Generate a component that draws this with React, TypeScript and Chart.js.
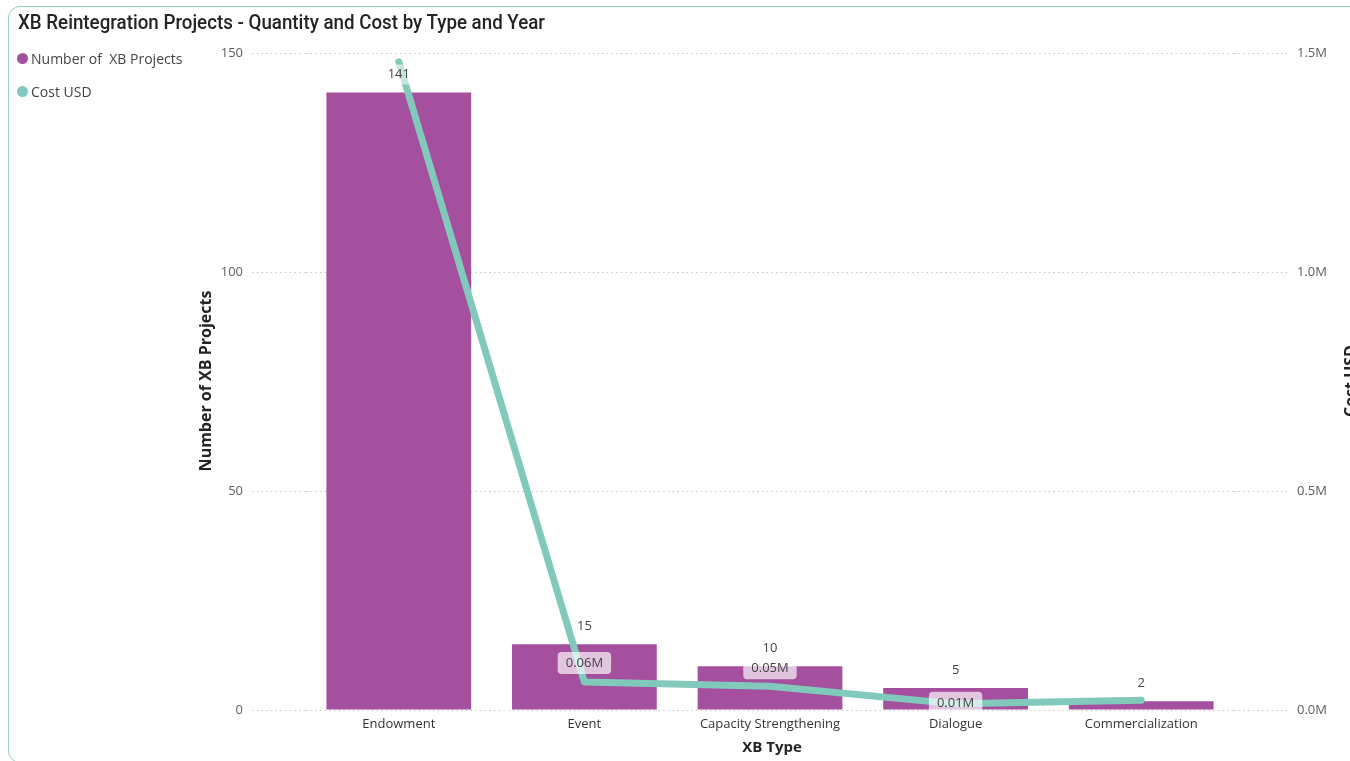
import React, { useEffect, useRef } from 'react';
import { Chart, registerables } from 'chart.js';

Chart.register(...registerables);

const categories = ['Endowment', 'Event', 'Capacity Strengthening', 'Dialogue', 'Commercialization'];
const projectCounts = [141, 15, 10, 5, 2];
const costUSD = [1480000, 64000, 54000, 14000, 22000];
const showCostLabel = [false, true, true, true, false];
const costLabelOffset = [0, -19, -18, -1, 0];
const leftTicks = [0, 50, 100, 150];
const rightTicks = [0, 500000, 1000000, 1500000];

const PURPLE = '#A4509F';
const TEAL = '#80C9BB';
const FONT = '"Open Sans", "Noto Sans", sans-serif';
const TITLE_TEXT = 'XB Reintegration Projects - Quantity and Cost by Type and Year';

function rr(ctx: CanvasRenderingContext2D, x: number, y: number, w: number, h: number, r: number) {
  ctx.beginPath();
  ctx.moveTo(x + r, y);
  ctx.lineTo(x + w - r, y);
  ctx.quadraticCurveTo(x + w, y, x + w, y + r);
  ctx.lineTo(x + w, y + h - r);
  ctx.quadraticCurveTo(x + w, y + h, x + w - r, y + h);
  ctx.lineTo(x + r, y + h);
  ctx.quadraticCurveTo(x, y + h, x, y + h - r);
  ctx.lineTo(x, y + r);
  ctx.quadraticCurveTo(x, y, x + r, y);
  ctx.closePath();
}

const labelPlugin = {
  id: 'customLabels',
  afterDatasetsDraw(chart: any) {
    const ctx: CanvasRenderingContext2D = chart.ctx;
    const barMeta = chart.getDatasetMeta(0);
    const lineMeta = chart.getDatasetMeta(1);
    ctx.save();
    ctx.textAlign = 'center';
    ctx.textBaseline = 'middle';
    ctx.font = `13px ${FONT}`;
    barMeta.data.forEach((el: any, i: number) => {
      const text = String(projectCounts[i]);
      const y = el.y - 18;
      const w = ctx.measureText(text).width + 8;
      ctx.fillStyle = 'rgba(255,255,255,0.55)';
      rr(ctx, el.x - w / 2, y - 10, w, 20, 3);
      ctx.fill();
      ctx.fillStyle = '#444444';
      ctx.fillText(text, el.x, y);
    });
    lineMeta.data.forEach((el: any, i: number) => {
      if (!showCostLabel[i]) return;
      const text = (costUSD[i] / 1e6).toFixed(2) + 'M';
      const y = el.y + costLabelOffset[i];
      const w = ctx.measureText(text).width + 16;
      ctx.fillStyle = 'rgba(255,255,255,0.68)';
      rr(ctx, el.x - w / 2, y - 11, w, 22, 4);
      ctx.fill();
      ctx.fillStyle = '#444444';
      ctx.fillText(text, el.x, y);
    });
    ctx.restore();
  },
  afterDraw(chart: any) {
    const ctx: CanvasRenderingContext2D = chart.ctx;
    const area = chart.chartArea;
    ctx.save();
    ctx.fillStyle = '#252423';
    ctx.textAlign = 'center';
    ctx.textBaseline = 'middle';
    ctx.font = `bold 16px ${FONT}`;
    const midY = 381;
    ctx.save();
    ctx.translate(206, midY);
    ctx.rotate(-Math.PI / 2);
    ctx.fillText('Number of XB Projects', 0, 0);
    ctx.restore();
    ctx.save();
    ctx.translate(1351, midY);
    ctx.rotate(-Math.PI / 2);
    ctx.fillText('Cost USD', 0, 0);
    ctx.restore();
    ctx.font = `bold 15px ${FONT}`;
    ctx.fillText('XB Type', (area.left + area.right) / 2 + 2, 748);
    ctx.restore();
  },
};

export default function App() {
  const ref = useRef<HTMLCanvasElement | null>(null);
  const titleRef = useRef<HTMLDivElement | null>(null);

  useEffect(() => {
    if (titleRef.current) {
      const w = titleRef.current.getBoundingClientRect().width;
      if (w > 0) titleRef.current.style.transform = `scaleX(${527 / w})`;
    }
    if (!ref.current) return;
    const dash = [1.5, 3.2];
    const chart = new Chart(ref.current, {
      type: 'bar',
      data: {
        labels: categories,
        datasets: [
          {
            type: 'bar',
            label: 'Number of  XB Projects',
            data: projectCounts,
            backgroundColor: PURPLE,
            yAxisID: 'y',
            categoryPercentage: 1,
            barPercentage: 0.78,
            order: 2,
          },
          {
            type: 'line',
            label: 'Cost USD',
            data: costUSD,
            borderColor: TEAL,
            backgroundColor: TEAL,
            borderWidth: 7,
            borderCapStyle: 'round',
            borderJoinStyle: 'round',
            pointRadius: 0,
            pointHoverRadius: 0,
            tension: 0,
            yAxisID: 'y1',
            order: 1,
          } as any,
        ],
      },
      options: {
        responsive: false,
        animation: false,
        devicePixelRatio: 1,
        layout: { padding: { top: 53, left: 0, right: 0, bottom: 0 } },
        plugins: {
          legend: { display: false },
          tooltip: { enabled: false },
          title: { display: false },
        },
        scales: {
          x: {
            grid: { display: false, drawTicks: false },
            border: { display: false },
            ticks: {
              color: '#333333',
              font: { family: FONT, size: 13 },
              padding: 6,
              maxRotation: 0,
            },
            afterFit: (s: any) => {
              s.height = 51;
            },
          },
          y: {
            position: 'left',
            min: leftTicks[0],
            max: leftTicks[leftTicks.length - 1],
            afterBuildTicks: (s: any) => {
              s.ticks = leftTicks.map((v) => ({ value: v }));
            },
            grid: {
              color: '#C8C6C4',
              lineWidth: 1,
              tickBorderDash: dash,
              tickColor: '#C8C6C4',
              drawTicks: true,
              tickLength: 54,
            } as any,
            border: { display: false, dash: dash } as any,
            ticks: {
              color: '#605E5C',
              font: { family: FONT, size: 13 },
              padding: 9,
            },
            afterFit: (s: any) => {
              s.width = 306;
            },
          },
          y1: {
            position: 'right',
            min: rightTicks[0],
            max: rightTicks[rightTicks.length - 1],
            afterBuildTicks: (s: any) => {
              s.ticks = rightTicks.map((v) => ({ value: v }));
            },
            grid: {
              drawOnChartArea: false,
              color: '#C8C6C4',
              tickBorderDash: dash,
              tickColor: '#C8C6C4',
              drawTicks: true,
              tickLength: 56,
            } as any,
            border: { display: false, dash: dash } as any,
            ticks: {
              color: '#605E5C',
              font: { family: FONT, size: 13 },
              padding: 7,
              callback: (v: any) => (Number(v) / 1e6).toFixed(1) + 'M',
            },
            afterFit: (s: any) => {
              s.width = 116;
            },
          },
        },
      },
      plugins: [labelPlugin],
    });
    return () => chart.destroy();
  }, []);

  const legendItems = [
    { label: 'Number of  XB Projects', color: PURPLE, y: 58 },
    { label: 'Cost USD', color: TEAL, y: 91 },
  ];

  return (
    <div
      style={{
        position: 'fixed',
        left: 0,
        top: 0,
        width: 1350,
        height: 761,
        overflow: 'hidden',
        background: '#ffffff',
        fontFamily: FONT,
      }}
    >
      <div
        style={{
          position: 'absolute',
          left: 8,
          top: 6,
          width: 1420,
          height: 757,
          border: '1.5px solid #8ED1C4',
          borderRadius: 12,
          boxSizing: 'border-box',
        }}
      />
      <canvas ref={ref} width={1350} height={761} style={{ position: 'absolute', left: 0, top: 0 }} />
      <div
        ref={titleRef}
        style={{
          position: 'absolute',
          left: 18,
          top: 9,
          fontFamily: 'Roboto, "Noto Sans", sans-serif',
          fontWeight: 500,
          fontSize: 21,
          color: '#252423',
          whiteSpace: 'nowrap',
          lineHeight: '26px',
          transformOrigin: 'left center',
        }}
      >
        {TITLE_TEXT}
      </div>
      {legendItems.map((it) => (
        <div
          key={it.label}
          style={{
            position: 'absolute',
            left: 17,
            top: it.y - 10,
            height: 20,
            display: 'flex',
            alignItems: 'center',
            fontSize: 14,
            color: '#444444',
            whiteSpace: 'pre',
          }}
        >
          <span
            style={{
              display: 'inline-block',
              width: 11,
              height: 11,
              borderRadius: '50%',
              background: it.color,
              marginRight: 3,
            }}
          />
          {it.label}
        </div>
      ))}
    </div>
  );
}
